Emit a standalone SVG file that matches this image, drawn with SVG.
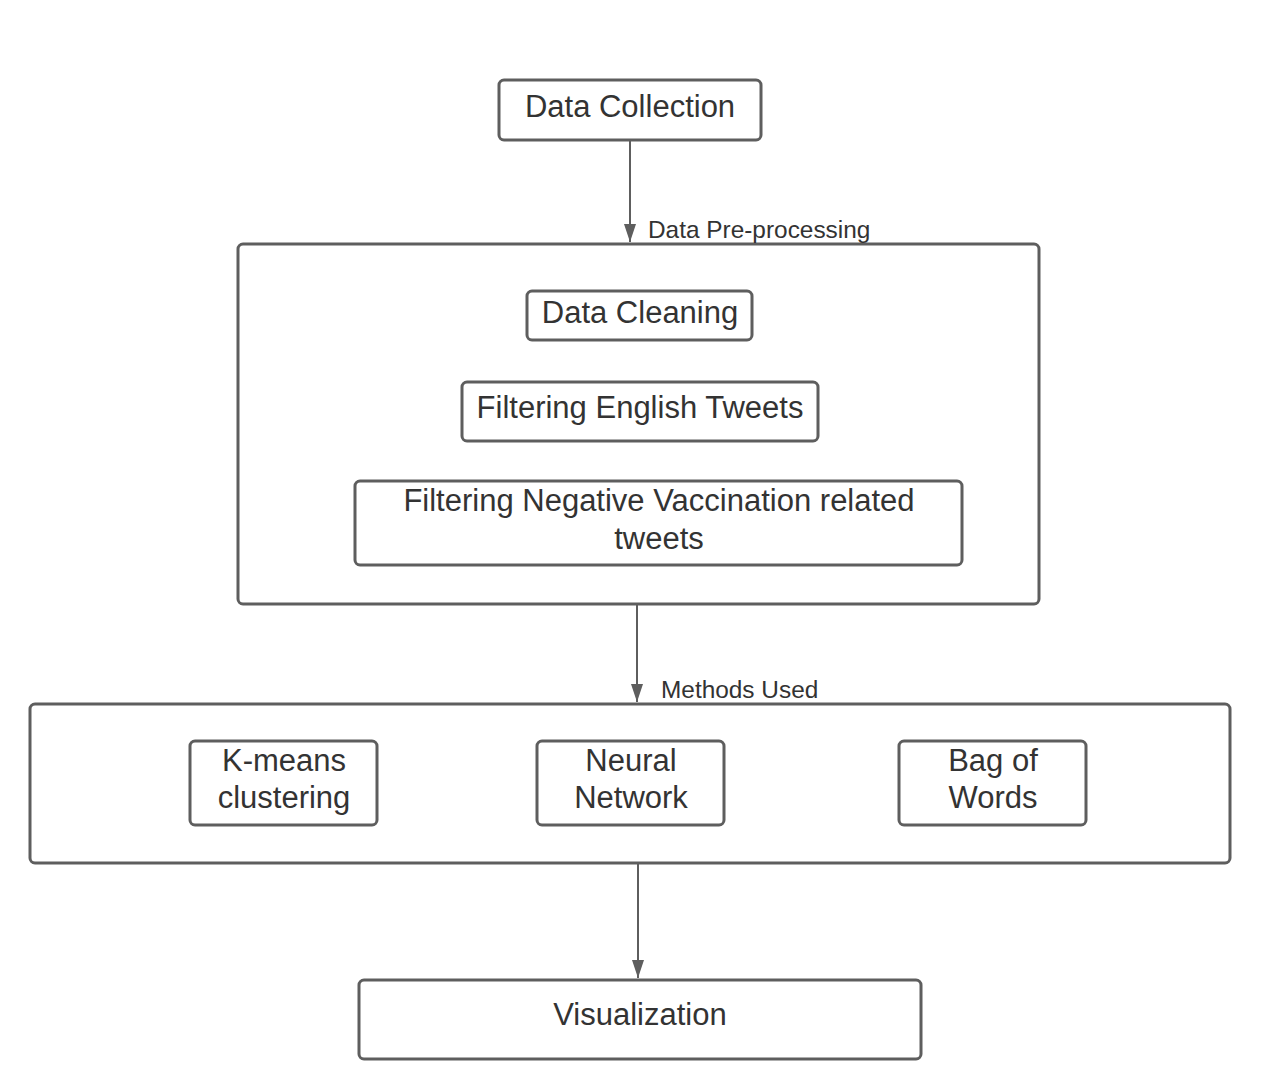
<svg xmlns="http://www.w3.org/2000/svg" width="1264" height="1090" viewBox="0 0 1264 1090">
<defs>
<marker id="arr" markerWidth="18" markerHeight="12" refX="18" refY="6" orient="auto" markerUnits="userSpaceOnUse" viewBox="0 0 18 12">
<path d="M0,0 L18,6 L0,12 Z" fill="#5e5e5e"/>
</marker>
<style>
.box{fill:#fff;stroke:#5e5e5e;stroke-width:3}
.t{font-family:"Liberation Sans",Arial,sans-serif;fill:#333;text-anchor:middle;font-size:31px}
.lbl{font-family:"Liberation Sans",Arial,sans-serif;fill:#333;font-size:24.4px}
.c{stroke:#5e5e5e;stroke-width:2;fill:none}
</style>
</defs>
<rect width="1264" height="1090" fill="#fff"/>
<g id="preprocessing">
<rect class="box" x="238" y="244" width="801" height="360" rx="5"/>
</g>
<g id="methods">
<rect class="box" x="30" y="704" width="1200" height="159" rx="5"/>
</g>
<g id="data-collection">
<rect class="box" x="499" y="80" width="262" height="60" rx="5"/>
<text class="t" x="630" y="117">Data Collection</text>
</g>
<g id="data-cleaning">
<rect class="box" x="527" y="291" width="225" height="49" rx="5"/>
<text class="t" x="640" y="323">Data Cleaning</text>
</g>
<g id="filter-english">
<rect class="box" x="462" y="382" width="356" height="59" rx="5"/>
<text class="t" x="640" y="418">Filtering English Tweets</text>
</g>
<g id="filter-negative">
<rect class="box" x="355" y="481" width="607" height="84" rx="5"/>
<text class="t" x="659" y="511">Filtering Negative Vaccination related</text>
<text class="t" x="659" y="549">tweets</text>
</g>
<g id="kmeans">
<rect class="box" x="190" y="741" width="187" height="84" rx="5"/>
<text class="t" x="284" y="771">K-means</text>
<text class="t" x="284" y="808">clustering</text>
</g>
<g id="neural">
<rect class="box" x="537" y="741" width="187" height="84" rx="5"/>
<text class="t" x="631" y="771">Neural</text>
<text class="t" x="631" y="808">Network</text>
</g>
<g id="bow">
<rect class="box" x="899" y="741" width="187" height="84" rx="5"/>
<text class="t" x="993" y="771">Bag of</text>
<text class="t" x="993" y="808">Words</text>
</g>
<g id="visualization">
<rect class="box" x="359" y="980" width="562" height="79" rx="5"/>
<text class="t" x="640" y="1025">Visualization</text>
</g>
<g id="connectors">
<line class="c" x1="630" y1="141" x2="630" y2="242" marker-end="url(#arr)"/>
<text class="lbl" x="648" y="238">Data Pre-processing</text>
<line class="c" x1="637" y1="605" x2="637" y2="702" marker-end="url(#arr)"/>
<text class="lbl" x="661" y="698">Methods Used</text>
<line class="c" x1="638" y1="864" x2="638" y2="978" marker-end="url(#arr)"/>
</g>
</svg>
